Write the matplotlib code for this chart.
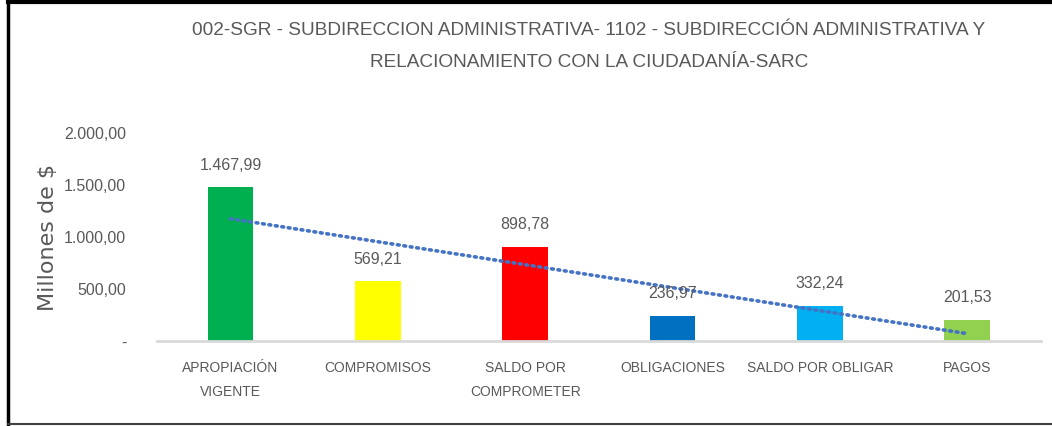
import numpy as np
import matplotlib.pyplot as plt
from matplotlib.lines import Line2D
from matplotlib import font_manager

categorias = ["APROPIACIÓN\nVIGENTE", "COMPROMISOS", "SALDO POR\nCOMPROMETER",
              "OBLIGACIONES", "SALDO POR OBLIGAR", "PAGOS"]
valores = [1467.99, 569.21, 898.78, 236.97, 332.24, 201.53]
etiquetas = ["1.467,99", "569,21", "898,78", "236,97", "332,24", "201,53"]
colores = ["#00B050", "#FFFF00", "#FF0000", "#0070C0", "#00B0F0", "#92D050"]
yticks = [0, 500, 1000, 1500, 2000]
ytick_labels = ["-", "500,00", "1.000,00", "1.500,00", "2.000,00"]

nombres = [f.name for f in font_manager.fontManager.ttflist]
narrow = "Liberation Sans Narrow" if "Liberation Sans Narrow" in nombres else "Liberation Sans"
gris = "#595959"

fig = plt.figure(figsize=(10.52, 4.27), dpi=100)
ax = fig.add_axes([0.149, 0.1998, 0.8405, 0.489])

x = np.arange(len(valores))
ax.bar(x, valores, width=0.31, color=colores, zorder=2)

# linea de tendencia lineal
m, b = np.polyfit(x, valores, 1)
ax.plot(x, m * x + b, linestyle=(0, (0.5, 1.3)), color="#4472C4", linewidth=2.6,
        dash_capstyle="round", zorder=3)

for xi, v, t in zip(x, valores, etiquetas):
    ax.text(xi, v + 150, t, ha="center", va="bottom", fontsize=11.5, color=gris,
            family=narrow)

ax.set_xlim(-0.5, len(valores) - 0.5)
ax.set_ylim(0, 2000)
ax.set_yticks(yticks)
ax.set_yticklabels(ytick_labels, family=narrow, fontsize=11.5, color=gris)
ax.set_xticks(x)
ax.set_xticklabels(categorias, family=narrow, fontsize=10, color=gris, linespacing=1.9)
ax.tick_params(axis="both", length=0)
ax.tick_params(axis="x", pad=14)
ax.tick_params(axis="y", pad=22)
for s in ["top", "right", "left"]:
    ax.spines[s].set_visible(False)
ax.spines["bottom"].set_color("#D9D9D9")
ax.spines["bottom"].set_linewidth(2)

ax.set_ylabel("Millones de $", fontsize=16, color=gris, family="DejaVu Sans")
ax.yaxis.set_label_coords(-0.112, 0.5)

fig.text(0.56, 0.928, "002-SGR - SUBDIRECCION ADMINISTRATIVA- 1102 - SUBDIRECCIÓN ADMINISTRATIVA Y",
         ha="center", va="center", fontsize=13.7, color=gris, family=narrow)
fig.text(0.56, 0.853, "RELACIONAMIENTO CON LA CIUDADANÍA-SARC",
         ha="center", va="center", fontsize=13.7, color=gris, family=narrow)

# marco
fig.add_artist(Line2D([0.0076, 0.0076], [0.0, 0.995], color="black", linewidth=2.5,
                      transform=fig.transFigure))
fig.add_artist(Line2D([0.0076, 1.0], [0.992, 0.992], color="black", linewidth=3,
                      transform=fig.transFigure))
fig.add_artist(Line2D([0.0076, 1.0], [0.004, 0.004], color="#404040", linewidth=1.5,
                      transform=fig.transFigure))

fig.savefig("out.png", dpi=100)
